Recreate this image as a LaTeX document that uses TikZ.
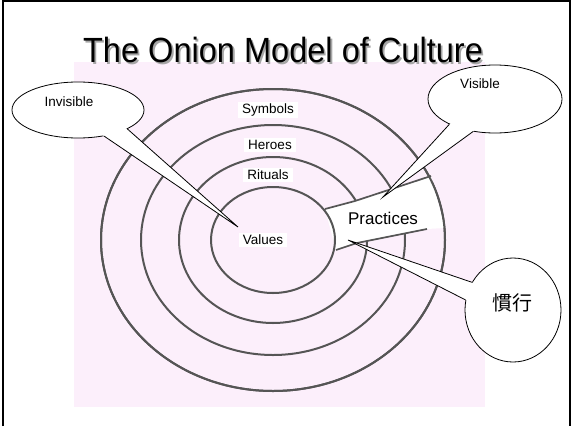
\documentclass[tikz,border=0pt]{standalone}
\usepackage{fontspec}
\setmainfont{Liberation Sans}
\newfontfamily\cjk{Noto Sans CJK JP}
\usetikzlibrary{shapes.geometric}
\definecolor{pinkbg}{RGB}{252,239,251}
\definecolor{ringgray}{RGB}{85,85,85}
\newcommand{\shadowtext}[1]{\makebox[0pt][l]{\hspace{2pt}\raisebox{-2pt}{\color{black!35}#1}}#1}
\begin{document}
\begin{tikzpicture}[x=1pt,y=-1pt,
  ringline/.style={draw=ringgray,line width=2pt},
  wedgeline/.style={draw=ringgray,line width=1.7pt},
  bubble/.style={ellipse,draw=black,fill=white,line width=0.8pt,inner sep=0pt},
  tailline/.style={draw=black,line width=0.8pt,line join=miter},
  layerlabel/.style={fill=white,inner xsep=4pt,inner ysep=2pt,font=\fontsize{13.5}{15}\selectfont},
  bubbletext/.style={font=\fontsize{13.5}{15}\selectfont},
  titlefont/.style={font=\fontsize{35}{40}\selectfont},
]
\useasboundingbox (0,0) rectangle (573,426);
\fill[white] (0,0) rectangle (573,426);
\draw[line width=1.8pt] (3,426) -- (3,1) -- (570,1) -- (570,426);
\fill[pinkbg] (74,62) rectangle (485,407);

% title with shadow
\node[titlefont,anchor=base] (title) at (283,62) {\scalebox{0.93}[1]{\shadowtext{The Onion Model of Culture}}};

% rings
\coordinate (c) at (273,240);
\draw[ringline] (c) ellipse [x radius=172pt, y radius=151pt];
\draw[ringline] (c) ellipse [x radius=132pt, y radius=115pt];
\draw[ringline] (c) ellipse [x radius=94pt, y radius=83pt];

% practices wedge
\coordinate (wA) at (325,209);
\coordinate (wM1) at (355,201);
\coordinate (wB) at (431,176);
\coordinate (wE) at (445,228);
\coordinate (wD) at (427,229);
\coordinate (wM2) at (357,243);
\coordinate (wC) at (336,250);
\fill[white] (wA) -- (wM1) -- (wB) -- (wE) -- (wD) -- (wM2) -- (wC) -- cycle;
\draw[wedgeline] (wA) -- (wM1) -- (wB);
\draw[wedgeline] (wC) -- (wM2) -- (wD);
\draw[ringline] (c) ellipse [x radius=172pt, y radius=151pt];
\draw[ringline] (c) ellipse [x radius=62pt, y radius=53pt];

% layer labels
\node[layerlabel] (symbols) at (268,110) {Symbols};
\node[layerlabel] (heroes) at (270,145) {Heroes};
\node[layerlabel] (rituals) at (268,175) {Rituals};
\node[layerlabel] (values) at (263,240) {Values};
\node[font=\fontsize{17}{19}\selectfont] (practices) at (383,218) {Practices};

% Invisible bubble
\node[bubble,minimum width=132pt,minimum height=56pt] (inv) at (78,110) {};
\coordinate (invtip) at (238,227);
\fill[white] (inv.-45) -- (invtip) -- (inv.-21) -- (inv.center) -- cycle;
\draw[tailline] (inv.-45) -- (invtip) -- (inv.-21);
\node[bubbletext] (invtext) at (69,102) {Invisible};

% Visible bubble
\node[bubble,minimum width=134pt,minimum height=68pt] (vis) at (495,99) {};
\coordinate (vistip) at (383,197);
\fill[white] (vis.209) -- (vistip) -- (vis.236) -- (vis.center) -- cycle;
\draw[tailline] (vis.209) -- (vistip) -- (vis.236);
\node[bubbletext] (vistext) at (480,84) {Visible};

% Kanko bubble
\node[bubble,minimum width=96pt,minimum height=104pt] (kan) at (513,310) {};
\coordinate (kantip) at (348,240);
\fill[white] (kan.146) -- (kantip) -- (kan.168) -- (kan.center) -- cycle;
\draw[tailline] (kan.146) -- (kantip) -- (kan.168);
\node[font=\fontsize{20}{22}\selectfont\cjk] (kantext) at (512,303) {慣行};
\end{tikzpicture}
\end{document}
